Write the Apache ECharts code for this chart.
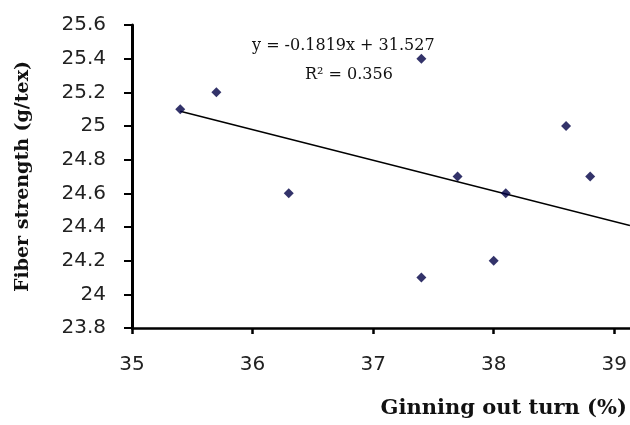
<!DOCTYPE html>
<html>
<head>
<meta charset="utf-8">
<script src="https://cdn.jsdelivr.net/npm/echarts@6/dist/echarts.min.js"></script>
<style>
  html, body { margin: 0; padding: 0; background: #fff; }
  #chart { width: 630px; height: 425px; }
</style>
</head>
<body>
<div id="chart"></div>
<script>
// ginning out turn (%) vs fiber strength (g/tex)
const ginningOutTurn = [35.4, 35.7, 36.3, 37.4, 37.7, 38.1, 38.6, 38.8, 37.4, 38.0]
const fiberStrength = [25.1, 25.2, 24.6, 25.4, 24.7, 24.6, 25.0, 24.7, 24.1, 24.2]
const xTicks = [35, 36, 37, 38, 39]

// fitted line shown on the chart
const slope = -0.1819
const intercept = 31.527
const trendFrom = 35.4
const trendTo = 39.13

const points = ginningOutTurn.map((x, i) => [x, fiberStrength[i]])
const trend = [trendFrom, trendTo].map(x => [x, slope * x + intercept])

const chart = echarts.init(document.getElementById('chart'))

const serif = '"DejaVu Serif", "Liberation Serif", serif'
const sans = '"DejaVu Sans", sans-serif'

const option = {
  animation: false,
  backgroundColor: '#fff',
  grid: {
    left: 132,
    right: 0,
    top: 25,
    bottom: 97
  },
  xAxis: {
    type: 'value',
    min: 35,
    max: 39.13,
    interval: 1,
    splitLine: { show: false },
    axisLine: { lineStyle: { color: '#000', width: 2.5 } },
    axisTick: {
      customValues: xTicks,
      length: 6,
      lineStyle: { color: '#000', width: 2.5 }
    },
    axisLabel: {
      customValues: xTicks,
      margin: 27,
      fontSize: 20,
      fontFamily: sans,
      color: '#222'
    },
    name: 'Ginning out turn (%)',
    nameLocation: 'end',
    nameGap: 0,
    nameTextStyle: {
      fontFamily: serif,
      fontWeight: 'bold',
      fontSize: 21,
      color: '#111',
      align: 'right',
      verticalAlign: 'top',
      padding: [70, 3, 0, 0]
    }
  },
  yAxis: {
    type: 'value',
    min: 23.8,
    max: 25.6,
    interval: 0.2,
    splitLine: { show: false },
    axisLine: { show: true, lineStyle: { color: '#000', width: 3 } },
    axisTick: { show: true, length: 8, lineStyle: { color: '#000', width: 2 } },
    axisLabel: {
      margin: 26,
      fontSize: 20,
      fontFamily: sans,
      color: '#222'
    },
    name: 'Fiber strength (g/tex)',
    nameLocation: 'middle',
    nameGap: 99,
    nameTextStyle: {
      fontFamily: serif,
      fontWeight: 'bold',
      fontSize: 19,
      color: '#111'
    }
  },
  graphic: [
    {
      type: 'text',
      x: 252,
      y: 46,
      style: {
        text: 'y = -0.1819x + 31.527',
        font: '16px ' + serif,
        fill: '#111',
        verticalAlign: 'middle'
      }
    },
    {
      type: 'text',
      x: 305,
      y: 75,
      style: {
        text: 'R² = 0.356',
        font: '16px ' + serif,
        fill: '#111',
        verticalAlign: 'middle'
      }
    }
  ],
  series: [
    {
      name: 'trend',
      type: 'line',
      data: trend,
      showSymbol: false,
      lineStyle: { color: '#000', width: 1.5 },
      silent: true,
      z: 1
    },
    {
      name: 'data',
      type: 'scatter',
      data: points,
      symbol: 'diamond',
      symbolSize: 10,
      itemStyle: { color: '#000045' },
      z: 3
    }
  ]
}

chart.setOption(option)
</script>
</body>
</html>
